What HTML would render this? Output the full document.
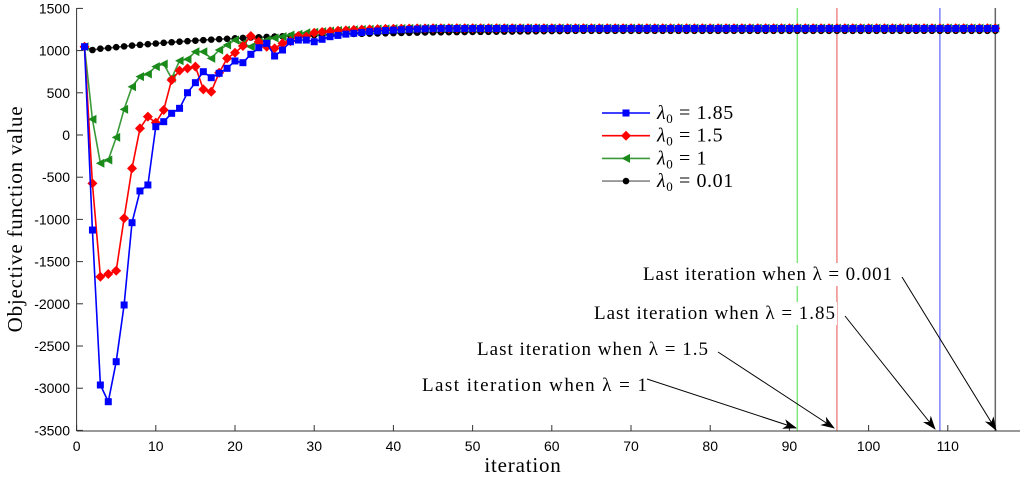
<!DOCTYPE html>
<html><head><meta charset="utf-8"><style>
body{margin:0;background:#fff;width:1024px;height:478px;overflow:hidden}
svg text{font-family:"Liberation Sans",sans-serif}
.serif{font-family:"Liberation Serif",serif}
</style></head><body>
<svg id="chart" width="1024" height="478" xmlns="http://www.w3.org/2000/svg">
<defs><marker id="arr" markerWidth="14" markerHeight="10" refX="13" refY="5" orient="auto" markerUnits="userSpaceOnUse"><path d="M0,0 L14,5 L0,10 L4,5 Z" fill="#000"/></marker></defs>
<g id="vlines"></g>
<g id="axes"></g>
<g id="series"></g>
<g id="annot"></g>
<g id="legend"></g>
</svg>
<script>
const xTicks=[0,10,20,30,40,50,60,70,80,90,100,110];
const yTicks=[1500,1000,500,0,-500,-1000,-1500,-2000,-2500,-3000,-3500];
const lastIter=[91,96,109,116];
const lastIterColors=["#7ee87e","#f08a8a","#8080ff","#666"];
const blueHead=[1046,-1126,-2962,-3160,-2686,-2014,-1039,-663,-592,99,158,257,316,501,620,750,679,731,790,877,857,956,1034,1086,936,1007,1105,1125,1125,1105,1134,1165,1180,1195,1205,1215,1225,1232,1238,1243,1248,1252,1255,1258,1260];
const redHead=[1046,-573,-1679,-1647,-1608,-987,-395,79,217,146,296,652,762,790,810,541,513,738,908,975,1054,1173,1105,1046,1026,1086,1113,1173,1165,1212,1220,1228,1235,1240,1245,1249,1252,1255,1257,1259,1261,1262,1263,1264,1265];
const greenHead=[1046,186,-335,-296,-28,304,572,691,723,810,841,672,880,897,987,987,908,1007,1066,1126,1086,1046,1105,1125,1149,1165,1185,1193,1212,1218,1225,1232,1238,1243,1247,1250,1253,1256,1258,1260,1262,1263,1264,1265,1266];
const blackHead=[1046,1007,1023,1030,1040,1050,1060,1068,1076,1084,1092,1099,1106,1112,1118,1124,1130,1135,1140,1145,1150,1154,1158,1162,1166,1170,1174,1177,1180,1183,1186,1189,1192,1195,1197,1199,1201,1203,1205,1207,1209,1211,1213,1215,1216,1217,1218,1219,1220,1221,1222,1223,1224,1225,1226,1227,1228,1229,1230,1231,1232,1233,1234,1235];
const blueTail=1262, redTail=1265, greenTail=1266, blackTail=1235;
const nIter=116;

const X=v=>76.6+v*7.92;
const Y=v=>135-v*0.0844;
const NS="http://www.w3.org/2000/svg";
function mk(tag,attrs,parent){const e=document.createElementNS(NS,tag);for(const k in attrs)e.setAttribute(k,attrs[k]);parent.appendChild(e);return e;}
function full(head,tail){const a=head.slice();while(a.length<nIter)a.push(tail);return a;}

const vl=document.getElementById('vlines');
lastIter.forEach((v,i)=>{const l=mk('line',{x1:X(v),x2:X(v),y1:8,y2:431,stroke:lastIterColors[i],'stroke-width':1.5},vl);

});

const ax=document.getElementById('axes');
let a=mk('line',{x1:76.6,x2:76.6,y1:8,y2:431,stroke:'#333','stroke-width':1},ax);

a=mk('line',{x1:76.6,x2:1020,y1:431,y2:431,stroke:'#333','stroke-width':1},ax);

xTicks.forEach(v=>{mk('line',{x1:X(v),x2:X(v),y1:431,y2:425,stroke:'#333'},ax);
const t=mk('text',{x:X(v),y:451,'text-anchor':'middle','font-size':14},ax);t.textContent=v;
});
yTicks.forEach(v=>{mk('line',{x1:76.6,x2:83,y1:Y(v),y2:Y(v),stroke:'#333'},ax);
const t=mk('text',{x:70,y:Y(v)+5,'text-anchor':'end','font-size':14},ax);t.textContent=v;
});
let t=mk('text',{x:523,y:472,'text-anchor':'middle','font-size':21,class:'serif','letter-spacing':'0.8'},ax);t.textContent='iteration';

t=mk('text',{x:0,y:0,'text-anchor':'middle','font-size':21,class:'serif',transform:'translate(22,219) rotate(-90)','letter-spacing':'0.8'},ax);t.textContent='Objective function value';


function marker(g,type,x,y,c){
 if(type==='sq')return mk('rect',{x:x-3.5,y:y-3.5,width:7,height:7,fill:c},g);
 if(type==='dia')return mk('path',{d:`M${x},${y-5}L${x+5},${y}L${x},${y+5}L${x-5},${y}Z`,fill:c},g);
 if(type==='tri')return mk('path',{d:`M${x-4.5},${y}L${x+4},${y-4.5}L${x+4},${y+4.5}Z`,fill:c},g);
 return mk('circle',{cx:x,cy:y,r:3.3,fill:c},g);
}
const S=document.getElementById('series');
const defs=[
 {name:'black',data:full(blackHead,blackTail),c:'#000',lc:'#444',m:'dot'},
 {name:'green',data:full(greenHead,greenTail),c:'#1a8a1a',lc:'#3a9a3a',m:'tri'},
 {name:'red',data:full(redHead,redTail),c:'#f00',lc:'#f00',m:'dia'},
 {name:'blue',data:full(blueHead,blueTail),c:'#0000ff',lc:'#0000ff',m:'sq'}];
defs.forEach(s=>{const g=mk('g',{},S);
 
 const pts=s.data.map((v,i)=>X(i+1).toFixed(1)+','+Y(v).toFixed(1)).join(' ');
 const pl=mk('polyline',{points:pts,fill:'none',stroke:s.lc,'stroke-width':1.6},g);
 
 s.data.forEach((v,i)=>{const m=marker(g,s.m,X(i+1),Y(v),s.c);
 });
});

const an=document.getElementById('annot');
const notes=[
 {txt:'Last iteration when \u03bb = 0.001',x:643,y:280,w:249,from:[902,277],to:[996,430]},
 {txt:'Last iteration when \u03bb = 1.85',x:594,y:319,w:241,from:[845,316],to:[935,429]},
 {txt:'Last iteration when \u03bb = 1.5',x:477,y:355,w:231,from:[718,352],to:[834,428]},
 {txt:'Last iteration when \u03bb = 1',x:422,y:391,w:225,from:[647,379],to:[796,428]}];
notes.forEach(n=>{
 mk('rect',{x:n.x-2,y:n.y-17,width:n.w+4,height:23,fill:'#fff'},an);
 const tx=mk('text',{x:n.x,y:n.y,'font-size':19,class:'serif',textLength:n.w,lengthAdjust:'spacing'},an);tx.textContent=n.txt;
 
 const ar=mk('line',{x1:n.from[0],y1:n.from[1],x2:n.to[0],y2:n.to[1],stroke:'#000','stroke-width':1,'marker-end':'url(#arr)'},an);
 
});

const lg=document.getElementById('legend');

const legendLabels=['1.85','1.5','1','0.01'];
const legendKeys=['blue','red','green','black'];
legendKeys.forEach((k,i)=>{const s=defs.find(d=>d.name===k);const y=113+i*22.7;
 const g=mk('g',{},lg);
 mk('line',{x1:602,x2:650,y1:y,y2:y,stroke:k==='black'?'#888':s.lc,'stroke-width':1.6},g);
 marker(g,s.m,626,y,s.c);
 const tx=mk('text',{x:657,y:y+6,'font-size':20,class:'serif','letter-spacing':'0.6'},g);
 tx.innerHTML='<tspan font-style="italic">\u03bb</tspan><tspan font-size="13" dy="4">0</tspan><tspan dy="-4"> = '+legendLabels[i]+'</tspan>';
});
</script>
</body></html>
